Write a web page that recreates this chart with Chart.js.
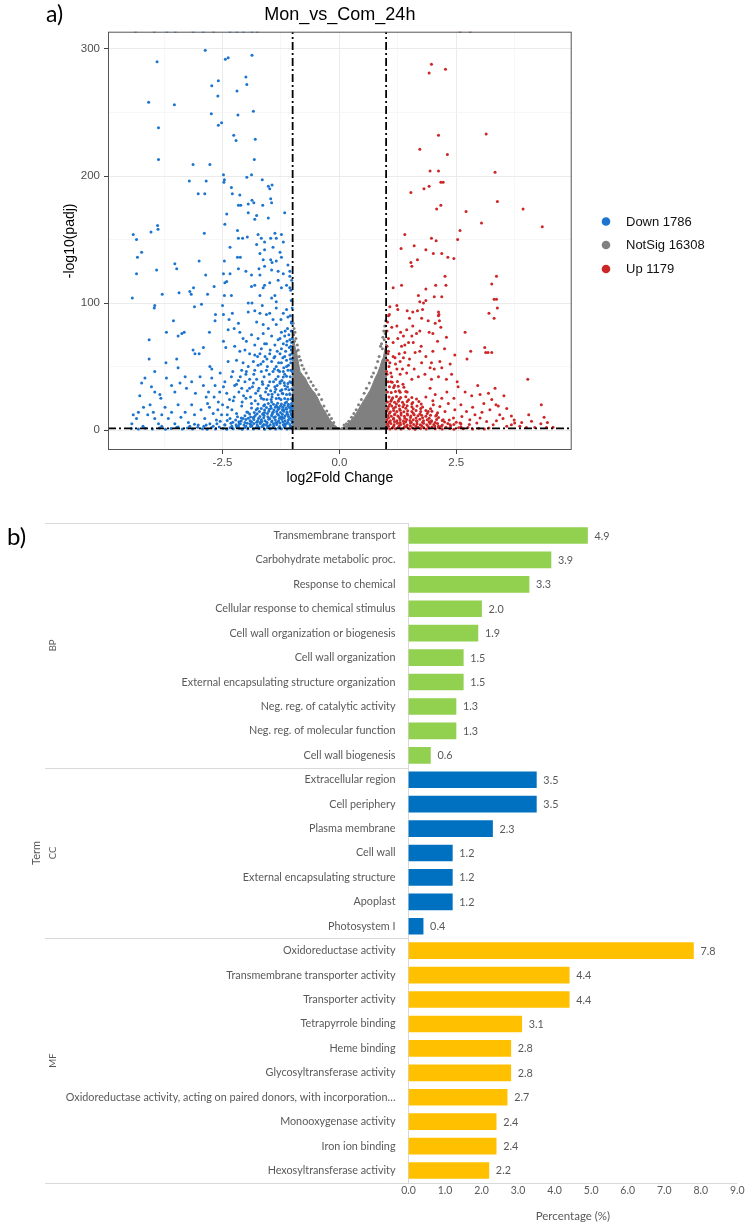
<!DOCTYPE html>
<html>
<head>
<meta charset="utf-8">
<script src="https://cdn.jsdelivr.net/npm/chart.js@4.4.1/dist/chart.umd.min.js"></script>
<style>
  html, body { margin: 0; padding: 0; background: #ffffff; }
  #page { position: relative; width: 749px; height: 1225px; overflow: hidden; }
  #volcano { position: absolute; left: 0; top: 0; }
  #goBars { position: absolute; left: 0; top: 490px; }
</style>
</head>
<body>
<div id="page">
  <canvas id="volcano" width="749" height="490"></canvas>
  <canvas id="goBars" width="749" height="735"></canvas>
</div>
<script>
// ---------- Volcano plot data: [log2FoldChange, -log10(padj)] ----------
const volcanoTitle = 'Mon_vs_Com_24h';
const downLabel = 'Down 1786';
const notSigLabel = 'NotSig 16308';
const upLabel = 'Up 1179';

const downPoints = [
  [-4.36,314],[-3.96,314],[-3.69,314],[-3.51,314],[-3.13,314],[-2.91,314],[-2.69,314],[-2.34,314],[-2.19,314],[-2.05,314],[-1.87,314],[-1.76,314],
  [-2.87,299],[-3.90,290],[-2.44,292],[-2.38,293],[-1.87,295],[-2.00,278],[-1.98,272],[-2.59,275],[-2.73,271],[-2.19,267],[-2.60,263],
  [-4.08,258],[-3.53,256],[-1.84,251],[-2.74,249],[-2.17,248],[-3.87,238],[-2.59,240],[-2.52,242],[-2.26,232],[-2.21,228],[-1.80,229],
  [-3.87,213],[-1.82,213],[-3.13,209],[-2.77,209],[-2.48,201],[-1.88,201],[-1.98,199],[-3.21,196],[-2.85,196],[-2.47,195],[-2.46,197],
  [-1.65,197],[-1.52,192],[-1.44,193],[-2.31,191],
  [-2.29,186],[-3.02,186],[-2.88,186],[-2.13,185],[-1.87,181],[-1.95,178],[-1.83,179],[-2.16,177],[-2.11,177],[-1.64,177],[-1.47,182],
  [-1.45,179],[-1.49,190],[-2.41,170],[-1.95,171],[-1.77,169],[-1.81,166],[-1.52,167],[-1.17,171],[-2.45,162],[-3.89,161],[-3.88,158],
  [-4.03,156],[-4.41,154],[-4.34,150],[-2.89,155],[-2.18,157],[-2.16,151],[-2.07,151],[-1.97,152],[-1.74,154],[-1.67,151],[-1.60,148],
  [-1.47,151],[-1.38,155],[-1.35,151],[-1.24,154],[-1.20,148],[-1.42,144],[-1.60,142],[-1.77,146],[-2.34,144],[-4.23,140],[-4.32,136],
  [-1.70,139],[-1.47,134],[-1.44,132],[-1.27,140],[-1.24,136],[-1.35,133],[-1.63,134],[-2.18,136],[-2.12,136],[-2.46,133],[-3.00,133],
  [-3.52,131],[-3.48,127],[-3.91,126],[-4.34,123],[-2.86,122],[-2.48,123],[-2.34,123],[-2.16,127],[-2.00,125],[-1.72,127],[-1.60,129],
  [-1.45,126],[-1.31,125],[-1.20,123],[-1.10,130],[-1.06,125],[-1.70,122],[-1.88,122],[-2.41,117],[-2.45,116],[-1.81,114],[-1.60,114],
  [-1.49,116],[-1.31,118],[-1.24,112],[-1.13,114],[-1.06,112],[-3.12,112],[-3.20,109],[-3.17,107],[-3.43,108],[-3.79,107],[-4.43,104],
  [-2.82,107],[-2.68,113],[-2.46,106],[-2.31,106],[-1.70,106],[-1.45,104],[-1.38,106],[-1.35,101],[-1.63,112],[-1.88,113],
  [-3.95,98],[-3.96,96],[-3.10,97],[-2.95,99],[-3.55,86],[-3.70,77],[-4.07,71],[-3.45,74],[-3.37,76],[-3.32,77],[-2.78,77],[-2.65,91],
  [-2.66,86],[-4.07,56],[-3.95,46],[-3.71,53],[-3.48,56],[-3.45,49],[-3.13,63],[-3.09,60],[-3.00,60],[-2.91,65],[-2.77,50],[-2.73,48],
  [-2.48,70],[-2.43,65],[-2.48,91],[-2.50,98],[-2.36,87],[-2.29,92],[-2.38,79],[-2.25,80],[-2.16,84],[-2.13,77],[-2.06,72],[-1.95,100],
  [-1.87,100],[-1.95,93],[-1.81,94],[-1.70,92],[-1.65,98],[-1.56,91],[-1.49,92],[-1.35,96],[-1.20,92],[-1.13,95],[-1.25,87],[-1.10,89],
  [-1.77,85],[-1.63,83],[-1.52,80],[-1.42,87],[-1.35,83],[-1.24,77],[-1.11,80],[-1.03,85],[-1.88,75],[-1.74,72],[-1.63,76],[-1.45,74],
  [-1.31,71],[-1.17,74],[-1.06,71],[-1.99,70],[-1.81,67],[-1.67,64],[-1.56,68],[-1.38,67],[-1.24,64],[-1.13,67],[-1.03,63],[-2.24,66],
  [-2.13,62],[-2.02,63],[-1.92,60],[-1.81,59],[-1.70,60],[-1.59,58],[-1.49,60],[-1.38,58],[-1.27,60],[-1.17,58],[-1.06,59],[-1.01,56],
  [-2.38,54],[-2.20,55],[-2.06,53],[-1.95,50],[-1.84,54],[-1.74,51],[-1.63,54],[-1.54,50],[-1.45,54],[-1.35,50],[-1.24,53],[-1.13,50],
  [-1.04,53],[-2.09,47],[-1.99,46],[-1.81,47],[-1.67,46],[-1.56,47],[-1.42,46],[-1.31,47],[-1.20,46],[-1.10,47],[-1.01,46],
  [-1.02,60],[-1.04,66],[-1.01,72],[-1.03,78],[-1.02,84],[-1.05,90],[-1.01,96],[-1.03,102],[-1.04,110],[-1.02,118],[-1.06,121],
  [-4.23,37],[-4.16,41],[-4.27,27],[-4.02,34],[-3.95,30],[-3.84,28],[-3.82,25],[-3.70,41],[-3.59,35],[-3.52,30],[-3.41,37],[-3.30,42],
  [-3.27,33],[-3.16,38],[-3.08,29],[-2.98,42],[-2.91,35],[-2.80,30],[-2.73,41],[-2.66,35],[-2.56,30],[-2.48,34],[-2.41,29],[-2.31,42],
  [-2.24,35],[-2.16,39],[-2.09,33],[-2.02,38],[-1.92,33],[-1.84,37],[-1.74,31],[-1.65,38],[-1.56,33],[-1.49,38],[-1.38,34],[-1.27,38],
  [-1.17,35],[-1.06,38],[-1.01,32],[-4.41,12],[-4.44,5],[-4.34,9],[-4.30,14],[-4.19,18],[-4.10,12],[-4.05,20],[-3.98,14],[-3.95,9],
  [-3.87,5],[-3.80,12],[-3.73,18],[-3.66,9],[-3.59,14],[-3.52,5],[-3.45,20],[-3.39,10],[-3.30,14],[-3.23,6],[-3.16,20],[-3.10,12],
  [-3.02,4],[-2.96,16],[-2.88,9],[-2.82,21],[-2.77,5],[-2.70,13],[-2.63,8],[-2.59,22],[-2.52,12],[-2.45,4],[-2.39,18],[-2.34,9],
  [-2.27,23],[-2.20,13],[-2.14,5],[-2.09,19],[-2.06,9],[-2.00,25],[-1.96,14],[-1.91,5],[-1.88,21],[-1.83,10],[-1.79,29],[-1.75,17],
  [-1.70,6],[-1.67,25],[-1.63,13],[-1.60,20],[-1.56,4],[-1.52,28],[-1.49,9],[-1.45,22],[-1.42,14],[-1.38,30],[-1.36,6],[-1.32,18],
  [-1.29,25],[-1.26,10],[-1.22,29],[-1.19,16],[-1.17,5],[-1.13,22],[-1.10,12],[-1.06,28],[-1.04,18],[-1.01,9],[-1.00,24],
  [-4.45,1.2],[-4.30,0.8],[-4.15,1.5],[-4.00,0.9],[-3.85,1.6],[-3.72,0.7],[-3.60,1.3],[-3.48,2.0],[-3.36,0.9],[-3.25,1.6],[-3.14,0.8],
  [-3.03,2.2],[-2.93,1.1],[-2.83,0.6],[-2.74,1.8],[-2.65,0.9],[-2.57,2.4],[-2.49,1.2],[-2.41,0.7],[-2.34,1.9],[-2.27,1.0],[-2.20,2.6],
  [-2.14,1.4],[-2.08,0.6],[-2.02,2.1],[-1.96,1.1],[-1.90,2.8],[-1.84,0.8],[-1.78,1.9],[-1.72,1.2],[-1.66,2.6],[-1.60,0.7],[-1.54,1.8],
  [-1.48,1.1],[-1.42,2.5],[-1.36,0.9],[-1.30,1.7],[-1.24,1.1],[-1.18,2.4],[-1.12,0.8],[-1.06,1.6],[-1.01,1.0],
  [-3.10,4.5],[-2.85,4.0],[-2.62,5.0],[-2.45,4.2],[-2.32,5.3],[-2.21,4.1],[-2.12,5.0],[-2.04,4.0],[-1.97,5.4],[-1.90,4.3],[-1.83,5.1],
  [-1.76,4.0],[-1.69,5.2],[-1.62,4.4],[-1.55,5.5],[-1.48,4.1],[-1.41,5.0],[-1.34,4.3],[-1.27,5.6],[-1.20,4.2],[-1.13,5.1],[-1.06,4.4],[-1.01,5.7],
  [-2.40,7.5],[-2.22,8.0],[-2.10,7.2],[-2.00,8.4],[-1.91,7.4],[-1.83,8.3],[-1.75,7.1],[-1.67,8.2],[-1.59,7.3],[-1.51,8.5],[-1.44,7.2],
  [-1.37,8.1],[-1.30,7.4],[-1.23,8.6],[-1.16,7.3],[-1.09,8.2],[-1.02,7.5],
  [-2.18,10.5],[-2.02,11.2],[-1.90,10.3],[-1.80,11.4],[-1.70,10.6],[-1.61,11.5],[-1.53,10.4],[-1.45,11.3],[-1.37,10.5],[-1.30,11.6],
  [-1.23,10.4],[-1.16,11.2],[-1.09,10.7],[-1.02,11.5],
  [-1.98,14.2],[-1.82,13.8],[-1.71,14.6],[-1.60,13.9],[-1.51,14.8],[-1.42,14.0],[-1.34,14.7],[-1.26,13.8],[-1.19,14.9],[-1.12,14.1],[-1.05,14.6],
  [-1.88,17.4],[-1.67,17.0],[-1.56,17.8],[-1.46,17.1],[-1.37,17.9],[-1.29,17.2],[-1.21,18.0],[-1.14,17.3],[-1.07,17.8],[-1.01,17.1],
  [-1.74,20.6],[-1.52,21.0],[-1.41,20.3],[-1.32,21.2],[-1.24,20.5],[-1.16,21.3],[-1.09,20.4],[-1.02,21.1],
  [-1.62,24.3],[-1.46,24.0],[-1.35,24.8],[-1.25,24.1],[-1.17,24.9],[-1.10,24.2],[-1.03,24.7],
  [-1.44,28.2],[-1.31,27.8],[-1.21,28.5],[-1.13,27.9],[-1.06,28.6],
  [-1.36,32.1],[-1.23,31.7],[-1.15,32.4],[-1.08,31.8],[-1.02,32.5],
  [-1.27,36.8],[-1.18,37.3],[-1.10,36.6],[-1.03,37.4],
  [-1.31,42.1],[-1.20,41.7],[-1.13,42.4],[-1.05,41.9],
  [-2.25,26],[-2.15,30],[-2.05,27],[-1.97,31],[-1.90,26],[-1.86,34],[-1.80,23],[-1.77,40],[-1.72,33],[-1.69,27],[-1.64,36],[-1.61,42],
  [-1.58,30],[-1.55,24],[-1.52,35],[-1.50,44],[-1.47,31],[-1.44,26],[-1.41,38],[-1.39,48],[-1.36,40],[-1.33,35],[-1.30,53],[-1.28,46],
  [-1.26,31],[-1.23,39],[-1.21,57],[-1.19,49],[-1.17,44],[-1.15,62],[-1.13,55],[-1.11,34],[-1.09,51],[-1.07,65],[-1.05,56],[-1.04,47],
  [-1.02,69],[-1.08,75],[-1.12,70],[-1.16,78],[-1.20,68],[-1.27,72],[-1.33,62],[-1.40,57],[-1.48,63],[-1.55,56],[-1.60,68],[-1.68,52],
  [-1.75,58],[-1.83,44],[-1.92,40],[-2.00,44],[-2.08,22],[-2.12,42],[-2.20,36],[-2.28,46],[-2.35,24],[-2.45,38],[-2.55,45],[-2.60,16],
  [-2.68,26],[-2.78,18],[-2.85,26],[-2.50,20],[-2.40,12],[-2.30,16],[-2.55,7],[-2.70,3],[-2.90,3],[-3.20,3],[-3.45,2.5],[-3.80,3],[-4.20,3],
  [-2.30,3.0],[-2.16,3.2],[-2.00,2.9],[-1.87,3.3],[-1.74,2.8],[-1.63,3.4],[-1.52,2.9],[-1.40,3.3],[-1.28,2.8],[-1.16,3.4],[-1.04,2.9],
  [-2.28,6.2],[-2.15,6.5],[-2.02,6.0],[-1.88,6.6],[-1.77,6.1],[-1.66,6.7],[-1.55,6.2],[-1.45,6.6],[-1.33,6.0],[-1.21,6.5],[-1.10,6.1],
  [-2.10,9.5],[-1.95,9.2],[-1.84,9.8],[-1.73,9.1],[-1.62,9.7],[-1.50,9.3],[-1.40,9.9],[-1.28,9.2],[-1.18,9.6],[-1.06,9.3],
  [-1.92,12.6],[-1.76,12.9],[-1.64,12.4],[-1.54,13.0],[-1.44,12.5],[-1.33,12.8],[-1.22,12.4],[-1.12,13.0],[-1.03,12.7],
  [-1.78,16.0],[-1.60,15.8],[-1.50,16.3],[-1.40,15.7],[-1.31,16.2],[-1.22,15.9],[-1.13,16.4],[-1.04,15.8],
  [-1.62,19.2],[-1.47,19.0],[-1.35,19.4],[-1.26,18.9],[-1.18,19.5],[-1.10,19.0],[-1.03,19.3]
];

const upPoints = [
  [2.58,314],[2.80,314],
  [1.97,288],[1.92,281],[2.27,284],[2.12,232],[3.14,233],[1.72,221],[2.31,217],[1.94,204],[2.12,204],[3.33,203],[2.17,195],[2.22,195],
  [1.53,187],[1.81,190],[1.92,192],[3.38,180],[2.08,174],[2.17,177],[2.71,172],[3.93,174],[3.04,163],[4.34,160],[2.58,157],[2.53,150],
  [1.40,154],[1.97,151],[2.07,149],[1.32,143],[1.60,145],[1.85,142],[2.01,139],[2.19,139],[2.32,136],[2.45,135],[1.53,132],[1.55,129],
  [1.67,134],[2.26,121],[1.15,112],[1.33,114],[2.06,114],[2.28,114],[1.85,111],[2.19,105],[1.69,106],[1.72,101],[1.80,100],[1.85,102],
  [2.03,105],[3.36,121],[3.26,115],[3.31,103],[3.36,103],[3.38,96],[3.20,92],[3.31,88],[2.12,93],[2.12,90],[2.14,86],[2.13,91],
  [1.08,97],[1.23,98],[1.25,95],[1.07,91],[1.45,94],[1.57,93],[1.67,94],[1.78,95],[1.50,88],[1.76,88],[1.90,86],[2.05,84],[2.17,81],
  [2.29,73],[2.69,77],[1.12,81],[1.23,82],[1.31,77],[1.44,79],[1.57,82],[1.65,76],[1.92,77],[2.00,76],[1.72,78],[3.11,65],[3.13,61],
  [3.18,61],[3.26,61],[2.81,62],[2.73,56],[2.47,59],[4.03,40],[3.33,33],[3.52,27],[3.58,17],[4.32,20],[4.38,10],[4.11,7],[4.31,5],
  [2.96,35],[2.52,38],[2.37,52],[2.19,49],[2.03,48],[1.94,49],[2.15,54],[1.97,53],[1.76,53],[1.62,61],[1.40,61],[1.37,57],[1.30,54],
  [1.48,51],[1.33,66],[1.48,69],[1.37,74],[1.58,69],[1.72,62],[1.15,69],[1.05,62],[1.19,57],[1.08,53],[1.23,48],[1.01,46],[1.12,42],
  [1.30,44],[1.44,45],[1.55,40],[1.69,42],[1.83,44],[1.97,40],[2.12,42],[2.29,40],[2.40,44],[2.54,34],[2.69,30],[2.83,27],[3.01,28],
  [3.19,29],[3.09,21],[3.26,24],[3.40,19],[3.22,16],[3.43,12],[3.68,11],[3.74,8],[3.75,5.5],[3.68,4.2],[3.58,2.9],[3.86,2.9],[4.00,2.0],
  [4.18,2.0],[4.43,2.0],[4.57,2.3],[3.36,7.4],[3.29,4.2],[3.15,6.8],[3.01,9.4],[2.90,12],[2.94,5.5],[2.79,8.1],[2.72,14.7],[2.62,10.7],
  [2.58,5.5],[2.47,16],[2.44,9.4],[2.33,21],[2.37,4.2],[2.26,14.7],[2.22,8.1],[2.19,25],[2.15,18.6],[2.12,2.9],[2.08,12],[2.05,28],
  [2.01,20],[1.97,6.8],[1.94,33],[1.90,14.7],
  [1.03,85],[1.02,78],[1.05,72],[1.02,66],[1.04,60],[1.03,55],[1.06,50],[1.02,44],[1.10,38],[1.18,35],[1.28,31],[1.36,36],[1.45,30],
  [1.02,1.5],[1.08,0.9],[1.14,1.8],[1.20,1.1],[1.26,2.2],[1.32,0.8],[1.38,1.6],[1.44,2.4],[1.50,1.0],[1.56,1.9],[1.62,0.7],[1.68,2.3],
  [1.74,1.2],[1.80,2.0],[1.86,0.9],[1.92,1.7],[1.98,2.5],[2.05,1.1],[2.12,1.9],[2.20,0.8],[2.28,2.2],[2.36,1.3],[2.45,0.7],[2.55,1.8],
  [2.65,1.0],[2.75,2.1],[2.85,0.9],[2.98,1.5],[3.10,0.8],[3.20,1.7],
  [1.03,4.5],[1.10,5.2],[1.17,4.1],[1.24,5.4],[1.31,4.3],[1.38,5.1],[1.45,4.0],[1.52,5.5],[1.59,4.4],[1.66,5.0],[1.73,4.2],[1.80,5.3],
  [1.87,4.1],[1.94,5.2],[2.02,4.3],[2.10,5.1],[2.20,4.0],[2.32,5.2],[2.45,4.4],[2.60,5.0],[2.78,4.3],
  [1.02,8.0],[1.09,7.3],[1.16,8.5],[1.23,7.4],[1.30,8.3],[1.37,7.2],[1.44,8.4],[1.51,7.5],[1.58,8.2],[1.65,7.3],[1.72,8.6],[1.80,7.4],
  [1.88,8.1],[1.97,7.3],[2.08,8.3],[2.20,7.6],[2.35,8.0],
  [1.04,11.5],[1.11,10.8],[1.18,12.0],[1.25,11.1],[1.32,11.9],[1.39,10.9],[1.46,11.8],[1.53,11.0],[1.60,12.1],[1.68,11.2],[1.76,11.7],
  [1.85,10.9],[1.95,11.6],[2.06,11.0],
  [1.02,15.0],[1.09,14.4],[1.16,15.3],[1.23,14.6],[1.30,15.5],[1.38,14.5],[1.46,15.2],[1.55,14.7],[1.64,15.4],[1.74,14.6],[1.85,15.3],[1.98,14.8],
  [1.05,18.5],[1.12,19.0],[1.20,18.2],[1.28,19.1],[1.36,18.4],[1.45,19.2],[1.55,18.3],[1.66,18.9],[1.78,18.1],
  [1.03,22.0],[1.10,22.6],[1.18,21.8],[1.26,22.7],[1.35,21.9],[1.45,22.5],[1.57,21.7],[1.70,22.4],
  [1.06,26.0],[1.14,25.5],[1.22,26.4],[1.31,25.7],[1.42,26.3],[1.55,25.6],
  [1.03,30.0],[1.11,29.5],[1.20,30.4],[1.30,29.7],[1.42,30.3],
  [1.07,34.0],[1.16,33.5],[1.26,34.4],[1.38,33.7],
  [1.04,38.0],[1.13,37.6],[1.24,38.3],
  [1.05,3.0],[1.16,2.9],[1.28,3.3],[1.40,2.8],[1.52,3.4],[1.64,2.9],[1.76,3.3],[1.90,2.8],[2.04,3.2],[2.18,2.9],[2.38,3.1],[2.60,2.7],
  [1.06,6.2],[1.18,6.6],[1.30,6.0],[1.42,6.5],[1.54,6.1],[1.66,6.7],[1.78,6.2],[1.92,6.5],[2.05,6.0],[2.25,6.4],[2.50,6.2],
  [1.05,9.7],[1.16,9.3],[1.28,9.9],[1.40,9.2],[1.52,9.8],[1.64,9.4],[1.78,9.7],[1.92,9.3],[2.12,9.8],
  [1.07,13.2],[1.19,12.8],[1.32,13.4],[1.45,12.9],[1.58,13.3],[1.72,12.7],[1.88,13.1],[2.10,13.6],
  [1.04,16.8],[1.16,17.1],[1.29,16.6],[1.42,17.2],[1.58,16.7],[1.74,17.0],[1.95,16.8],
  [1.08,20.3],[1.22,20.6],[1.38,20.2],[1.55,20.8],[1.75,20.5],
  [1.12,24.0],[1.28,24.2],[1.48,23.8],[1.65,24.5],[1.85,26],[2.00,23],[2.30,30],[2.45,25],[2.60,20],[2.85,18],[3.05,14],[3.35,20],
  [3.50,9],[3.90,6],[4.05,12],[4.45,6],
  [1.10,45],[1.20,52],[1.35,48],[1.50,56],[1.60,48],[1.75,66],[1.85,58],[2.00,62],[2.10,70],[2.25,64],[1.28,60],[1.15,58],[1.40,67],
  [1.25,72],[1.55,74],[1.05,90]
];

// Non-significant genes: outline of the dense central cloud plus scattered points at its rim
const notSigEnvelopeX = [-1.0,-1.0,-0.98,-0.94,-0.91,-0.87,-0.84,-0.78,-0.73,-0.68,-0.63,-0.57,-0.52,-0.46,-0.41,-0.35,-0.30,-0.25,-0.20,-0.15,-0.09,-0.04,0.01,0.06,0.12,0.17,0.23,0.29,0.34,0.39,0.44,0.50,0.55,0.60,0.66,0.71,0.76,0.82,0.87,0.91,0.94,0.97,1.0,1.0];
const notSigEnvelopeY = [0,70,72,64,60,52,46,43,41,37,34,31,29,25,21,17,14,11,8,5.5,3.5,2,1.2,2,2.8,4.5,7,9.5,12,15,18.5,22,25,28,31.5,36,40.6,45,50,55,57,63,68,0];
const notSigPoints = [
  [-0.99,84],[-0.97,80],[-0.95,77],[-0.98,75],[-0.93,72],[-0.96,70],[-0.90,67],[-0.88,63],[-0.92,62],[-0.86,58],[-0.83,55],[-0.80,51],
  [-0.76,48],[-0.71,45],[-0.66,41],[-0.61,38],[-0.56,35],[-0.50,32],[-0.44,28],[-0.38,24],[-0.33,19],[-0.27,15],[-0.22,12],[-0.17,9],[-0.12,6],
  [0.99,86],[0.97,82],[0.95,78],[0.98,76],[0.93,73],[0.96,71],[0.90,68],[0.88,66],[0.92,64],[0.85,58],[0.82,54],[0.78,49],[0.73,45],
  [0.69,42],[0.64,37],[0.58,33],[0.53,29],[0.47,24],[0.41,20],[0.36,16],[0.31,13],[0.26,10],[0.20,7],[0.15,5],[0.10,4]
];

// Thresholds: |log2FC| = 1 and padj = 0.05
const foldChangeCutoffs = [-1, 1];
const padjCutoff = 1.3;

const volcanoXRange = [-4.95, 4.97];
const volcanoYRange = [-15.7, 313.6];
const volcanoXTicks = [-3.75, -2.5, -1.25, 0, 1.25, 2.5, 3.75];
const volcanoXLabelled = [-2.5, 0, 2.5];
const volcanoYTicks = [0, 50, 100, 150, 200, 250, 300];
const volcanoYLabelled = [0, 100, 200, 300];

// ---------- GO enrichment data ----------
const bpTerms = ['Transmembrane transport','Carbohydrate metabolic proc.','Response to chemical','Cellular response to chemical stimulus','Cell wall organization or biogenesis','Cell wall organization','External encapsulating structure organization','Neg. reg. of catalytic activity','Neg. reg. of molecular function','Cell wall biogenesis'];
const bpValues = [4.9, 3.9, 3.3, 2.0, 1.9, 1.5, 1.5, 1.3, 1.3, 0.6];
const ccTerms = ['Extracellular region','Cell periphery','Plasma membrane','Cell wall','External encapsulating structure','Apoplast','Photosystem I'];
const ccValues = [3.5, 3.5, 2.3, 1.2, 1.2, 1.2, 0.4];
const mfTerms = ['Oxidoreductase activity','Transmembrane transporter activity','Transporter activity','Tetrapyrrole binding','Heme binding','Glycosyltransferase activity','Oxidoreductase activity, acting on paired donors, with incorporation\u2026','Monooxygenase activity','Iron ion binding','Hexosyltransferase activity'];
const mfValues = [7.8, 4.4, 4.4, 3.1, 2.8, 2.8, 2.7, 2.4, 2.4, 2.2];
const goGroupNames = ['BP', 'CC', 'MF'];
const percentTicks = [0, 1, 2, 3, 4, 5, 6, 7, 8, 9];

// ---------- Styling ----------
const DOWN_COLOR = '#1C74CF';
const NOTSIG_COLOR = '#808080';
const UP_COLOR = '#CD2626';
const GROUP_COLORS = ['#92D050', '#0070C0', '#FFC000'];
const SANS = '"Liberation Sans", Arial, sans-serif';
const CAL = 'Lato, "Open Sans", sans-serif';
const POINT_R = 1.5;

const toXY = pts => pts.map(([x, y]) => ({ x, y }));

// Panel frame, title, panel tag and legend for the volcano plot
const volcanoDecor = {
  id: 'volcanoDecor',
  afterDraw(chart) {
    const { ctx, chartArea: a } = chart;
    ctx.save();
    ctx.strokeStyle = '#555555';
    ctx.lineWidth = 1;
    ctx.strokeRect(a.left + 0.5, a.top + 0.5, a.right - a.left - 1, a.bottom - a.top - 1);

    ctx.fillStyle = '#000';
    ctx.textAlign = 'center';
    ctx.textBaseline = 'middle';
    ctx.font = '18px ' + SANS;
    ctx.fillText(volcanoTitle, (a.left + a.right) / 2, 15);

    ctx.textAlign = 'left';
    ctx.font = '23px ' + CAL;
    ctx.fillText('a)', 46, 15);

    const entries = [[downLabel, DOWN_COLOR], [notSigLabel, NOTSIG_COLOR], [upLabel, UP_COLOR]];
    const ys = [221.5, 245, 269];
    ctx.font = '13px ' + SANS;
    entries.forEach(([label, color], i) => {
      ctx.fillStyle = color;
      ctx.beginPath();
      ctx.arc(606, ys[i], 4.3, 0, Math.PI * 2);
      ctx.fill();
      ctx.fillStyle = '#111';
      ctx.fillText(label, 626, ys[i] + 0.5);
    });
    ctx.restore();
  }
};

const cutoffLine = (pts) => ({
  type: 'line', data: pts, borderColor: '#000', borderWidth: 1.8,
  borderDash: [8, 3, 2, 3], pointRadius: 0, fill: false, order: 0, clip: 0
});

new Chart(document.getElementById('volcano'), {
  type: 'scatter',
  data: {
    datasets: [
      cutoffLine([{ x: foldChangeCutoffs[0], y: volcanoYRange[0] }, { x: foldChangeCutoffs[0], y: volcanoYRange[1] }]),
      cutoffLine([{ x: foldChangeCutoffs[1], y: volcanoYRange[0] }, { x: foldChangeCutoffs[1], y: volcanoYRange[1] }]),
      cutoffLine([{ x: volcanoXRange[0], y: padjCutoff }, { x: volcanoXRange[1], y: padjCutoff }]),
      { label: downLabel, data: toXY(downPoints), backgroundColor: DOWN_COLOR, borderWidth: 0, pointRadius: POINT_R, order: 1, clip: 0 },
      { label: upLabel, data: toXY(upPoints), backgroundColor: UP_COLOR, borderWidth: 0, pointRadius: POINT_R, order: 1, clip: 0 },
      { label: notSigLabel, data: toXY(notSigPoints), backgroundColor: NOTSIG_COLOR, borderWidth: 0, pointRadius: POINT_R, order: 2, clip: 0 },
      { label: 'NotSig cloud', type: 'line', data: notSigEnvelopeX.map((x, i) => ({ x, y: notSigEnvelopeY[i] })),
        backgroundColor: NOTSIG_COLOR, borderColor: NOTSIG_COLOR, borderWidth: 1, pointRadius: 0, fill: 'origin', tension: 0, order: 3, clip: 0 }
    ]
  },
  options: {
    responsive: false, animation: false, events: [],
    layout: { padding: { left: 58, top: 31.7, right: 177.3, bottom: 0 } },
    plugins: { legend: { display: false }, tooltip: { enabled: false } },
    scales: {
      x: {
        type: 'linear', min: volcanoXRange[0], max: volcanoXRange[1],
        afterBuildTicks: s => { s.ticks = volcanoXTicks.map(v => ({ value: v })); },
        afterFit: s => { s.height = 40; },
        ticks: { autoSkip: false, maxRotation: 0, padding: 2, color: '#4d4d4d', font: { family: SANS, size: 11.5 },
          callback: v => volcanoXLabelled.includes(v) ? v.toFixed(1) : '' },
        grid: {
          color: c => volcanoXLabelled.includes(c.tick && c.tick.value) ? '#ebebeb' : '#f3f3f3',
          lineWidth: c => volcanoXLabelled.includes(c.tick && c.tick.value) ? 1 : 0.7,
          tickColor: c => volcanoXLabelled.includes(c.tick && c.tick.value) ? '#444' : 'rgba(0,0,0,0)',
          tickLength: 4
        },
        border: { display: false },
        title: { display: true, text: 'log2Fold Change', color: '#000', font: { family: SANS, size: 14 }, padding: { top: 0, bottom: 3.6 } }
      },
      y: {
        type: 'linear', min: volcanoYRange[0], max: volcanoYRange[1],
        afterBuildTicks: s => { s.ticks = volcanoYTicks.map(v => ({ value: v })); },
        afterFit: s => { s.width = 50; },
        ticks: { autoSkip: false, padding: 4, color: '#4d4d4d', font: { family: SANS, size: 11.5 },
          callback: v => volcanoYLabelled.includes(v) ? String(v) : '' },
        grid: {
          color: c => volcanoYLabelled.includes(c.tick && c.tick.value) ? '#ebebeb' : '#f3f3f3',
          lineWidth: c => volcanoYLabelled.includes(c.tick && c.tick.value) ? 1 : 0.7,
          tickColor: c => volcanoYLabelled.includes(c.tick && c.tick.value) ? '#444' : 'rgba(0,0,0,0)',
          tickLength: 4
        },
        border: { display: false },
        title: { display: true, text: '-log10(padj)', color: '#000', font: { family: SANS, size: 14 }, padding: { top: 4, bottom: 0 } }
      }
    }
  },
  plugins: [volcanoDecor]
});

// ---------- GO bar chart ----------
const goTerms = [...bpTerms, ...ccTerms, ...mfTerms];
const goValues = [...bpValues, ...ccValues, ...mfValues];
const groupSizes = [bpTerms.length, ccTerms.length, mfTerms.length];
const goColors = [];
groupSizes.forEach((n, g) => { for (let i = 0; i < n; i++) goColors.push(GROUP_COLORS[g]); });

const goDecor = {
  id: 'goDecor',
  afterDraw(chart) {
    const { ctx, chartArea: a } = chart;
    const rowH = (a.bottom - a.top) / goTerms.length;
    ctx.save();
    // group separators and base line
    ctx.strokeStyle = '#d9d9d9';
    ctx.lineWidth = 1;
    let start = 0;
    const bounds = [0];
    groupSizes.forEach(n => { start += n; bounds.push(start); });
    bounds.forEach((b, i) => {
      const y = Math.round(a.top + b * rowH) + 0.5;
      ctx.beginPath();
      ctx.moveTo(45, y);
      ctx.lineTo(i === bounds.length - 1 ? a.right : a.left, y);
      ctx.stroke();
    });
    // group names and axis title
    ctx.fillStyle = '#595959';
    ctx.textAlign = 'center';
    ctx.textBaseline = 'middle';
    goGroupNames.forEach((name, g) => {
      const mid = a.top + (bounds[g] + bounds[g + 1]) / 2 * rowH;
      ctx.save();
      ctx.translate(53, mid);
      ctx.rotate(-Math.PI / 2);
      ctx.font = '9.5px ' + CAL;
      ctx.fillText(name, 0, 0);
      ctx.restore();
    });
    ctx.save();
    ctx.translate(36, (a.top + a.bottom) / 2);
    ctx.rotate(-Math.PI / 2);
    ctx.font = '11px ' + CAL;
    ctx.fillText('Term', 0, 0);
    ctx.restore();
    // value labels
    const meta = chart.getDatasetMeta(0);
    ctx.textAlign = 'left';
    ctx.font = '10.8px ' + CAL;
    meta.data.forEach((bar, i) => {
      ctx.fillText(goValues[i].toFixed(1), bar.x + 7, bar.y + 0.5);
    });
    // panel tag
    ctx.fillStyle = '#000';
    ctx.font = '24px ' + CAL;
    ctx.fillText('b)', 7, 47);
    ctx.restore();
  }
};

new Chart(document.getElementById('goBars'), {
  type: 'bar',
  data: {
    labels: goTerms,
    datasets: [{ data: goValues, backgroundColor: goColors, borderWidth: 0, barThickness: 16 }]
  },
  options: {
    indexAxis: 'y', responsive: false, animation: false, events: [],
    layout: { padding: { left: 0, top: 33.3, right: 11.7, bottom: 0 } },
    plugins: { legend: { display: false }, tooltip: { enabled: false } },
    scales: {
      x: {
        min: 0, max: 9,
        afterBuildTicks: s => { s.ticks = percentTicks.map(v => ({ value: v })); },
        afterFit: s => { s.height = 42.3; },
        ticks: { autoSkip: false, maxRotation: 0, padding: 2, color: '#595959', font: { family: CAL, size: 10.5 }, callback: v => v.toFixed(1) },
        grid: { display: false, drawTicks: false, tickLength: 0 },
        border: { display: false },
        title: { display: true, text: 'Percentage (%)', color: '#595959', font: { family: CAL, size: 11.5 }, padding: { top: 0, bottom: 1.5 } }
      },
      y: {
        afterFit: s => { s.width = 408.5; },
        ticks: { autoSkip: false, padding: 13, color: '#595959', font: { family: CAL, size: 10.8 } },
        grid: { display: false, drawTicks: false, tickLength: 0 },
        border: { display: true, color: '#d9d9d9', width: 1 }
      }
    }
  },
  plugins: [goDecor]
});
</script>
</body>
</html>
